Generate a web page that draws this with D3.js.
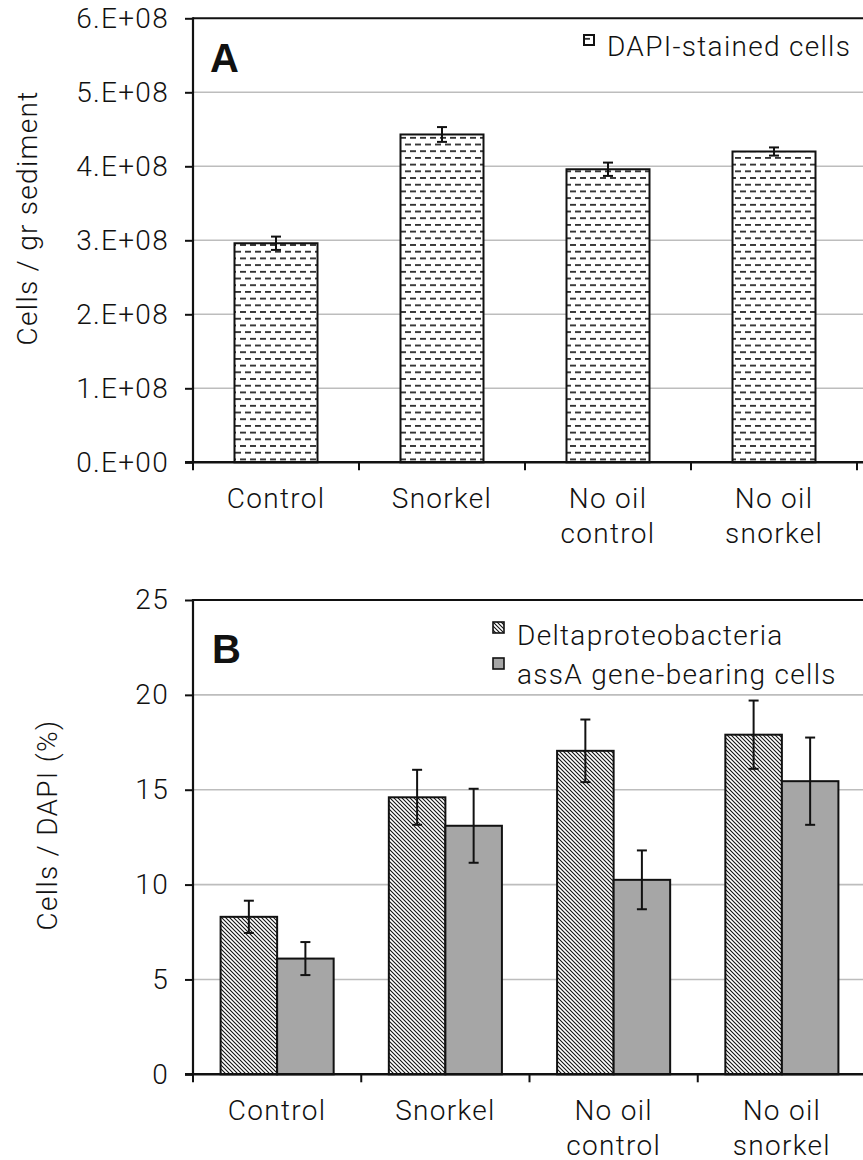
<!DOCTYPE html>
<html>
<head>
<meta charset="utf-8">
<script src="https://cdn.jsdelivr.net/npm/d3@7"></script>
<style>
  html, body { margin: 0; padding: 0; background: #fff; }
  svg { display: block; }
  text { font-family: Roboto, "Liberation Sans", Arial, sans-serif; font-weight: 300; fill: #111; }
  text.panel-tag { font-family: "Liberation Sans", Arial, sans-serif; font-weight: 700; }
</style>
</head>
<body>
<svg id="chart" width="863" height="1160"></svg>
<script>
// ---- data ----
const categoryLines = [["Control"], ["Snorkel"], ["No oil", "control"], ["No oil", "snorkel"]];
const categories = categoryLines.map(l => l.join(" "));

// Panel A: DAPI-stained cells per gram of sediment
const dapiMean = [2.96e8, 4.43e8, 3.96e8, 4.20e8];
const dapiErr  = [0.09e8, 0.10e8, 0.09e8, 0.055e8];
const yTicksA  = [0, 1e8, 2e8, 3e8, 4e8, 5e8, 6e8];
const yLabelsA = ["0.E+00", "1.E+08", "2.E+08", "3.E+08", "4.E+08", "5.E+08", "6.E+08"];

// Panel B: percentage of DAPI counts
const seriesB   = ["Deltaproteobacteria", "assA gene-bearing cells"];
const deltaMean = [8.3, 14.6, 17.05, 17.9];
const deltaErr  = [0.85, 1.45, 1.65, 1.8];
const assAMean  = [6.1, 13.1, 10.25, 15.45];
const assAErr   = [0.87, 1.95, 1.55, 2.3];
const yTicksB   = [0, 5, 10, 15, 20, 25];

const svg = d3.select("#chart");
const defs = svg.append("defs");

// short dashed fill used for the DAPI bars
const dash = defs.append("pattern").attr("id", "dashes")
  .attr("patternUnits", "userSpaceOnUse").attr("width", 10).attr("height", 13.4);
dash.append("rect").attr("width", 10).attr("height", 13.4).attr("fill", "#fff");
dash.append("rect").attr("x", 0).attr("y", 3).attr("width", 6).attr("height", 1.6).attr("fill", "#111");
dash.append("rect").attr("x", 5).attr("y", 9.7).attr("width", 6).attr("height", 1.6).attr("fill", "#111");
dash.append("rect").attr("x", -5).attr("y", 9.7).attr("width", 6).attr("height", 1.6).attr("fill", "#111");

// dense diagonal hatch for Deltaproteobacteria
const hatch = defs.append("pattern").attr("id", "hatch")
  .attr("patternUnits", "userSpaceOnUse").attr("width", 4).attr("height", 4);
hatch.append("rect").attr("width", 4).attr("height", 4).attr("fill", "#fff");
hatch.append("path").attr("d", "M-1,-1L5,5M-1,3L1,5M3,-1L5,1")
  .attr("stroke", "#111").attr("stroke-width", 1.1);

const fontSize = 28;
const spacing = 1.3;

function drawPanel(opts) {
  const { left, y, ticks } = opts;
  const g = svg.append("g");
  // gridlines
  g.selectAll("line.grid").data(ticks.slice(1, -1)).join("line")
    .attr("x1", left).attr("x2", 863)
    .attr("y1", d => y(d)).attr("y2", d => y(d))
    .attr("stroke", "#bdbdbd").attr("stroke-width", 1.6);
  // top border of plot area
  g.append("line").attr("x1", left).attr("x2", 863)
    .attr("y1", y(ticks[ticks.length - 1])).attr("y2", y(ticks[ticks.length - 1]))
    .attr("stroke", "#111").attr("stroke-width", 2);
  return g;
}

function drawAxes(g, opts) {
  const { left, y, ticks, tickLabels, xTickPos, baseY } = opts;
  const axis = d3.axisLeft(y).tickValues(ticks)
    .tickFormat((d, i) => tickLabels[i]).tickSize(8).tickPadding(16);
  const ga = g.append("g").attr("transform", `translate(${left},0)`).call(axis);
  ga.select(".domain").remove();
  ga.attr("font-family", null).attr("font-size", null);
  ga.selectAll(".tick line").attr("stroke", "#111").attr("stroke-width", 2);
  ga.selectAll(".tick text").attr("font-size", fontSize).attr("letter-spacing", spacing)
    .attr("fill", "#111");
  // y axis line
  g.append("line").attr("x1", left).attr("x2", left)
    .attr("y1", y.range()[1] - 1).attr("y2", baseY + 1)
    .attr("stroke", "#111").attr("stroke-width", 2.2);
  // x axis line and boundary ticks
  g.append("line").attr("x1", left - 8).attr("x2", 863)
    .attr("y1", baseY).attr("y2", baseY)
    .attr("stroke", "#111").attr("stroke-width", 2.4);
  g.selectAll("line.xtick").data(xTickPos).join("line")
    .attr("x1", d => d).attr("x2", d => d)
    .attr("y1", baseY).attr("y2", baseY + 8)
    .attr("stroke", "#111").attr("stroke-width", 2);
}

function drawCategoryLabels(g, x, firstBaseline) {
  const t = g.selectAll("text.cat").data(categoryLines).join("text")
    .attr("class", "cat")
    .attr("x", (d, i) => x(categories[i]) + x.bandwidth() / 2)
    .attr("y", firstBaseline)
    .attr("text-anchor", "middle")
    .attr("font-size", fontSize).attr("letter-spacing", spacing);
  t.selectAll("tspan").data(d => d).join("tspan")
    .attr("x", function () { return this.parentNode.getAttribute("x"); })
    .attr("dy", (d, i) => i === 0 ? 0 : 35)
    .text(d => d);
}

function errorBars(g, data, cx, y, capW) {
  const e = g.selectAll(null).data(data).join("g");
  e.append("line")
    .attr("x1", d => cx(d)).attr("x2", d => cx(d))
    .attr("y1", d => y(d.v + d.e)).attr("y2", d => y(d.v - d.e))
    .attr("stroke", "#111").attr("stroke-width", 2);
  [1, -1].forEach(s => {
    e.append("line")
      .attr("x1", d => cx(d) - capW / 2).attr("x2", d => cx(d) + capW / 2)
      .attr("y1", d => y(d.v + s * d.e)).attr("y2", d => y(d.v + s * d.e))
      .attr("stroke", "#111").attr("stroke-width", 2);
  });
}

// ================= Panel A =================
{
  const left = 193;
  const yA = d3.scaleLinear().domain([0, 6e8]).range([462.3, 18.3]);
  const xA = d3.scaleBand().domain(categories).range([left, 857])
    .paddingInner(0.5).paddingOuter(0.25);
  const g = drawPanel({ left, y: yA, ticks: yTicksA });

  const rows = categories.map((c, i) => ({ c, v: dapiMean[i], e: dapiErr[i] }));
  g.selectAll("rect.bar").data(rows).join("rect")
    .attr("x", d => xA(d.c)).attr("width", xA.bandwidth())
    .attr("y", d => yA(d.v)).attr("height", d => yA(0) - yA(d.v))
    .attr("fill", "url(#dashes)").attr("stroke", "#111").attr("stroke-width", 2);
  errorBars(g, rows, d => xA(d.c) + xA.bandwidth() / 2, yA, 10);

  const xTickPos = d3.range(categories.length + 1).map(i => left + i * xA.step());
  drawAxes(g, { left, y: yA, ticks: yTicksA, tickLabels: yLabelsA, xTickPos, baseY: yA(0) });
  drawCategoryLabels(g, xA, 508);

  g.append("text").attr("transform", `translate(37,218) rotate(-90)`)
    .attr("text-anchor", "middle").attr("font-size", fontSize).attr("letter-spacing", spacing)
    .text("Cells / gr sediment");
  g.append("text").attr("class", "panel-tag").attr("x", 210).attr("y", 72)
    .attr("font-size", 40).text("A");

  // legend
  const lg = g.append("g").attr("transform", "translate(584,35)");
  lg.append("rect").attr("width", 10).attr("height", 10)
    .attr("fill", "url(#dashes)").attr("stroke", "#111").attr("stroke-width", 2);
  lg.append("text").attr("x", 23).attr("y", 21)
    .attr("font-size", fontSize).attr("letter-spacing", spacing).text("DAPI-stained cells");
}

// ================= Panel B =================
{
  const left = 193;
  const yB = d3.scaleLinear().domain([0, 25]).range([1074.3, 600]);
  const xB = d3.scaleBand().domain(categories).range([left, 866])
    .paddingInner(0.328).paddingOuter(0.164);
  const xS = d3.scaleBand().domain(seriesB).range([0, xB.bandwidth()]);
  const g = drawPanel({ left, y: yB, ticks: yTicksB });

  const rows = [];
  categories.forEach((c, i) => {
    rows.push({ c, s: seriesB[0], v: deltaMean[i], e: deltaErr[i] });
    rows.push({ c, s: seriesB[1], v: assAMean[i], e: assAErr[i] });
  });
  const fills = { [seriesB[0]]: "url(#hatch)", [seriesB[1]]: "#a6a6a6" };
  g.selectAll("rect.bar").data(rows).join("rect")
    .attr("x", d => xB(d.c) + xS(d.s)).attr("width", xS.bandwidth())
    .attr("y", d => yB(d.v)).attr("height", d => yB(0) - yB(d.v))
    .attr("fill", d => fills[d.s]).attr("stroke", "#111").attr("stroke-width", 2);
  errorBars(g, rows, d => xB(d.c) + xS(d.s) + xS.bandwidth() / 2, yB, 10);

  const xTickPos = d3.range(categories.length + 1).map(i => left + i * xB.step());
  drawAxes(g, { left, y: yB, ticks: yTicksB, tickLabels: yTicksB.map(String), xTickPos, baseY: yB(0) });
  drawCategoryLabels(g, xB, 1120);

  g.append("text").attr("transform", `translate(57,825) rotate(-90)`)
    .attr("text-anchor", "middle").attr("font-size", fontSize).attr("letter-spacing", spacing)
    .text("Cells / DAPI (%)");
  g.append("text").attr("class", "panel-tag").attr("x", 212).attr("y", 663)
    .attr("font-size", 40).text("B");

  // legend
  const lg = g.append("g").attr("transform", "translate(493,622)");
  seriesB.forEach((s, i) => {
    lg.append("rect").attr("y", i * 36).attr("width", 11).attr("height", 11)
      .attr("fill", fills[s]).attr("stroke", "#111").attr("stroke-width", 1.6);
    lg.append("text").attr("x", 24).attr("y", 23 + i * 39)
      .attr("font-size", fontSize).attr("letter-spacing", spacing).text(s);
  });
}
</script>
</body>
</html>
